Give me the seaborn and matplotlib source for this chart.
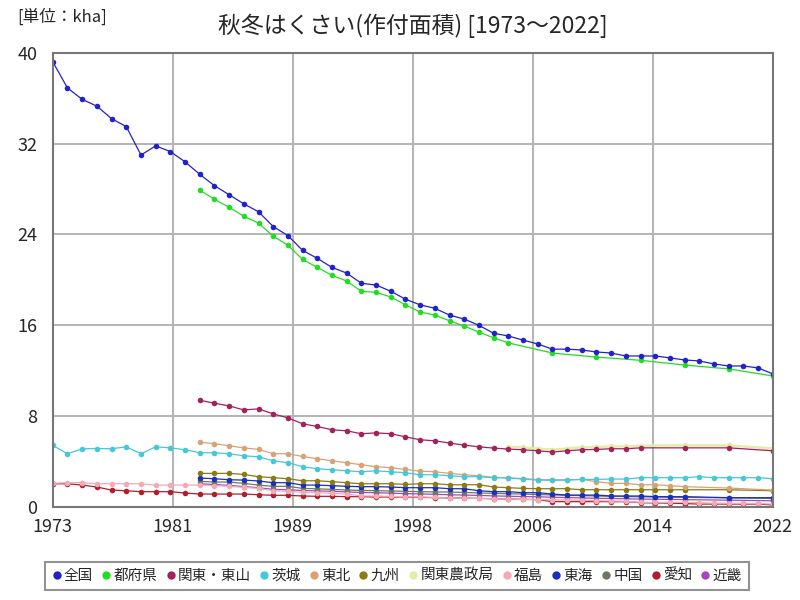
import numpy as np
import pandas as pd
import matplotlib
matplotlib.use("Agg")
import matplotlib.pyplot as plt
import seaborn as sns
from matplotlib.lines import Line2D

series_names = ["全国", "都府県", "関東・東山", "茨城", "東北", "九州", "関東農政局", "福島", "東海", "中国", "愛知", "近畿"]
colors = ["#2222cc", "#22dd22", "#a3215c", "#45c8d8", "#d8a276", "#8c7a12", "#e4eca8", "#f3a9b6", "#1a2fbf", "#6b7a5c", "#b01e2a", "#a545c0"]

years_all = list(range(1973, 2023))
years_83_16 = list(range(1983, 2017)) + [2019, 2022]
years_83_13 = list(range(1983, 2014)) + [2016, 2019, 2022]
years_todofuken = list(range(1983, 2005)) + [2007, 2010, 2013, 2016, 2019, 2022]
years_noseikyoku = list(range(2004, 2014)) + [2016, 2019, 2022]
years_kinki = list(range(1983, 2011)) + [2013, 2016, 2019, 2022]

zenkoku = [39.2, 36.9, 35.9, 35.3, 34.2, 33.5, 31.0, 31.8, 31.3, 30.4,
           29.3, 28.3, 27.5, 26.7, 26.0, 24.7, 23.9, 22.6, 21.9, 21.1,
           20.6, 19.7, 19.55, 19.0, 18.3, 17.8, 17.5, 16.9, 16.55, 16.0,
           15.3, 15.06, 14.7, 14.36, 13.9, 13.9, 13.83, 13.65, 13.56, 13.3,
           13.3, 13.3, 13.13, 12.95, 12.86, 12.6, 12.42, 12.42, 12.25, 11.72]
todofuken = [27.9, 27.1, 26.4, 25.6, 25.0, 23.85, 23.06, 21.8, 21.1, 20.4,
             19.9, 19.0, 18.9, 18.5, 17.8, 17.17, 16.9, 16.4, 15.94, 15.4,
             14.9, 14.45, 13.56, 13.2, 12.92, 12.5, 12.16, 11.54]
kanto_tosan = [9.4, 9.14, 8.9, 8.55, 8.64, 8.2, 7.85, 7.33, 7.09, 6.8,
               6.71, 6.45, 6.53, 6.45, 6.18, 5.92, 5.83, 5.63, 5.45, 5.3,
               5.19, 5.1, 5.04, 4.95, 4.84, 4.95, 5.04, 5.07, 5.13, 5.13,
               5.21, 5.21, 5.21, 4.95]
ibaraki = [5.42, 4.69, 5.13, 5.15, 5.13, 5.3, 4.69, 5.3, 5.21, 5.04,
           4.78, 4.78, 4.69, 4.51, 4.42, 4.07, 3.9, 3.55, 3.37, 3.28,
           3.19, 3.1, 3.19, 3.1, 3.02, 2.84, 2.84, 2.75, 2.67, 2.67,
           2.58, 2.55, 2.46, 2.37, 2.35, 2.37, 2.43, 2.43, 2.46, 2.46,
           2.58, 2.58, 2.58, 2.58, 2.67, 2.58, 2.58, 2.58, 2.58, 2.49]
tohoku = [5.71, 5.57, 5.39, 5.21, 5.07, 4.69, 4.69, 4.45, 4.25, 4.07,
          3.9, 3.72, 3.55, 3.46, 3.31, 3.16, 3.1, 2.96, 2.84, 2.75,
          2.61, 2.58, 2.5, 2.42, 2.4, 2.4, 2.43, 2.23, 2.08, 2.08,
          1.96, 1.96, 1.88, 1.79, 1.67, 1.49]
kyushu = [2.96, 2.96, 2.96, 2.87, 2.67, 2.58, 2.49, 2.31, 2.31, 2.23,
          2.14, 2.05, 2.05, 2.05, 1.99, 2.05, 2.05, 1.96, 1.96, 1.96,
          1.76, 1.7, 1.64, 1.61, 1.61, 1.61, 1.52, 1.52, 1.52, 1.52,
          1.52, 1.52, 1.52, 1.52, 1.52, 1.43]
noseikyoku = [5.3, 5.25, 5.15, 5.05, 5.15, 5.25, 5.28, 5.33, 5.33, 5.4,
              5.42, 5.42, 5.15]
fukushima = [2.08, 2.14, 2.15, 2.05, 2.05, 2.05, 2.05, 1.93, 1.93, 1.93,
             1.93, 1.88, 1.82, 1.73, 1.64, 1.43, 1.38, 1.29, 1.26, 1.2,
             1.14, 0.97, 0.97, 0.94, 0.91, 0.88, 0.85, 0.79, 0.77, 0.75,
             0.72, 0.7, 0.67, 0.65, 0.63, 0.62, 0.6, 0.56, 0.53, 0.5,
             0.41, 0.41, 0.41, 0.41, 0.38, 0.34, 0.32, 0.32, 0.3, 0.26]
tokai = [2.55, 2.49, 2.4, 2.37, 2.29, 2.14, 2.14, 1.93, 1.93, 1.88,
         1.82, 1.79, 1.79, 1.76, 1.7, 1.7, 1.7, 1.61, 1.61, 1.43,
         1.35, 1.35, 1.26, 1.26, 1.14, 1.05, 1.05, 1.05, 0.97, 0.97,
         0.97, 0.91, 0.91, 0.91, 0.82, 0.82]
chugoku = [2.26, 2.2, 2.2, 2.08, 1.93, 1.82, 1.82, 1.64, 1.6, 1.55,
           1.5, 1.46, 1.44, 1.41, 1.38, 1.35, 1.33, 1.32, 1.28, 1.24,
           1.2, 1.17, 1.14, 1.1, 1.06, 1.03, 1.0, 0.97, 0.94, 0.92,
           0.9, 0.88, 0.86, 0.85, 0.8, 0.75]
aichi = [2.05, 2.05, 1.93, 1.76, 1.49, 1.43, 1.35, 1.35, 1.35, 1.23,
         1.14, 1.14, 1.14, 1.14, 1.08, 1.03, 1.03, 0.97, 0.94, 0.94,
         0.91, 0.91, 0.88, 0.88, 0.88, 0.85, 0.82, 0.8, 0.78, 0.76,
         0.73, 0.7, 0.68, 0.65, 0.47, 0.47, 0.47, 0.47, 0.47, 0.47,
         0.38, 0.36, 0.34, 0.3, 0.26, 0.26, 0.26, 0.26, 0.26, 0.18]
kinki = [2.05, 1.98, 1.9, 1.8, 1.7, 1.55, 1.52, 1.45, 1.42, 1.38,
         1.33, 1.28, 1.26, 1.22, 1.18, 1.15, 1.12, 1.08, 1.05, 1.02,
         0.98, 0.95, 0.92, 0.9, 0.86, 0.83, 0.8, 0.77, 0.7, 0.65,
         0.6, 0.55]

x_ticks = np.linspace(1973, 2022, 7)
x_labels = ["1973", "1981", "1989", "1998", "2006", "2014", "2022"]
y_ticks = [0, 8, 16, 24, 32, 40]

parts = [
    ("全国", years_all, zenkoku),
    ("都府県", years_todofuken, todofuken),
    ("関東・東山", years_83_13, kanto_tosan),
    ("茨城", years_all, ibaraki),
    ("東北", years_83_16, tohoku),
    ("九州", years_83_16, kyushu),
    ("関東農政局", years_noseikyoku, noseikyoku),
    ("福島", years_all, fukushima),
    ("東海", years_83_16, tokai),
    ("中国", years_83_16, chugoku),
    ("愛知", years_all, aichi),
    ("近畿", years_kinki, kinki),
]
df = pd.concat([pd.DataFrame({"year": y, "value": v, "series": n}) for n, y, v in parts],
               ignore_index=True)

sns.set_style("white")
plt.rcParams["font.family"] = ["Noto Sans CJK JP", "DejaVu Sans"]

palette = dict(zip(series_names, colors))
draw_order = ["関東農政局", "近畿", "中国", "愛知", "福島", "東海", "九州", "東北", "茨城",
              "関東・東山", "都府県", "全国"]

fig = plt.figure(figsize=(8, 6), dpi=100)
ax = fig.add_axes([0.066, 0.155, 0.9, 0.757])
for name in draw_order:
    sub = df[df["series"] == name]
    lw = 1.8 if name == "関東農政局" else 0.9
    sns.lineplot(data=sub, x="year", y="value", color=palette[name], marker="o",
                 markersize=4, markeredgewidth=0, linewidth=lw, estimator=None,
                 legend=False, ax=ax)

ax.set_xlim(1973, 2022)
ax.set_ylim(0, 40)
ax.set_xticks(x_ticks)
ax.set_xticklabels(x_labels)
ax.set_yticks(y_ticks)
ax.set_xlabel("")
ax.set_ylabel("")
ax.grid(True, color="#b4b4b4", linewidth=1.4)
ax.set_axisbelow(True)
ax.tick_params(axis="both", labelsize=13, length=0)
ax.tick_params(axis="y", pad=11)
ax.tick_params(axis="x", pad=8)
for s in ax.spines.values():
    s.set_color("#777777")
    s.set_linewidth(1.5)

fig.text(0.516, 0.957, "秋冬はくさい(作付面積) [1973～2022]", ha="center", va="center", fontsize=16.5)
fig.text(0.022, 0.972, "[単位：kha]", ha="left", va="center", fontsize=12)

handles = [Line2D([0], [0], marker="o", linestyle="none", markersize=6,
                  markerfacecolor=palette[n], markeredgewidth=0) for n in series_names]
leg = fig.legend(handles, series_names, loc="lower left", bbox_to_anchor=(0.047, 0.004),
                 ncol=12, fontsize=10.5, handlelength=0.6, handletextpad=0.2,
                 columnspacing=0.6, frameon=True, fancybox=False, borderpad=0.5)
leg.get_frame().set_edgecolor("#777777")
leg.get_frame().set_linewidth(1.5)

fig.savefig("out.png", dpi=100)
